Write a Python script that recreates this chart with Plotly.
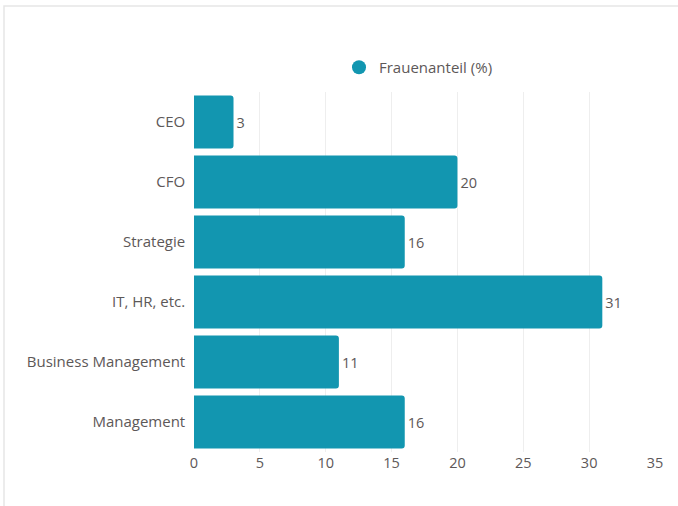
import plotly.graph_objects as go

categories = ["CEO", "CFO", "Strategie", "IT, HR, etc.", "Business Management", "Management"]
values = [3, 20, 16, 31, 11, 16]
series_name = "Frauenanteil (%)"
x_ticks = [0, 5, 10, 15, 20, 25, 30, 35]

bar_color = "#1296b0"
text_color = "#5d5858"
font_family = "Open Sans, Lato, sans-serif"
font_size = 15

fig = go.Figure()

fig.add_trace(go.Bar(
    y=categories,
    x=values,
    orientation="h",
    marker=dict(color=bar_color, line=dict(width=0)),
    text=[str(v) for v in values],
    textposition="outside",
    textfont=dict(size=14.5, color=text_color),
    cliponaxis=False,
    showlegend=False,
    name=series_name,
))

# legend entry with a round marker
fig.add_trace(go.Scatter(
    x=[None], y=[None],
    mode="markers",
    marker=dict(symbol="circle", size=14, color=bar_color),
    name=series_name,
    showlegend=True,
))

W, H = 678, 506
ml, mr, mt, mb = 194, 23, 92, 54
pw, ph = W - ml - mr, H - mt - mb

def px_to_paper_x(p):
    return (p - ml) / pw

def px_to_paper_y(p):
    return (H - mb - p) / ph

# card outline
fig.add_shape(
    type="rect", xref="paper", yref="paper",
    x0=px_to_paper_x(4), x1=px_to_paper_x(W + 20),
    y0=px_to_paper_y(H + 20), y1=px_to_paper_y(6),
    line=dict(color="#e6e6e6", width=1.5),
    fillcolor="rgba(0,0,0,0)",
    layer="below",
)

fig.update_layout(
    width=W, height=H,
    margin=dict(l=ml, r=mr, t=mt, b=mb),
    paper_bgcolor="white",
    plot_bgcolor="white",
    font=dict(family=font_family, size=font_size, color=text_color),
    bargap=0.12,
    barcornerradius=3,
    showlegend=True,
    legend=dict(
        orientation="h",
        x=px_to_paper_x(339), xanchor="left",
        y=px_to_paper_y(51), yanchor="top",
        font=dict(size=font_size, color=text_color),
        itemwidth=30,
        bgcolor="rgba(0,0,0,0)",
    ),
    xaxis=dict(
        range=[0, 35],
        tickvals=x_ticks,
        showgrid=True,
        gridcolor="#eeeeee",
        gridwidth=1,
        zeroline=False,
        showline=False,
        ticks="",
        tickfont=dict(size=14.5, color=text_color),
        fixedrange=True,
    ),
    yaxis=dict(
        categoryorder="array",
        categoryarray=categories[::-1],
        showgrid=False,
        zeroline=False,
        showline=False,
        ticks="",
        ticksuffix="  ",
        tickfont=dict(size=font_size, color=text_color),
        fixedrange=True,
    ),
)

fig.write_html("out.html")
